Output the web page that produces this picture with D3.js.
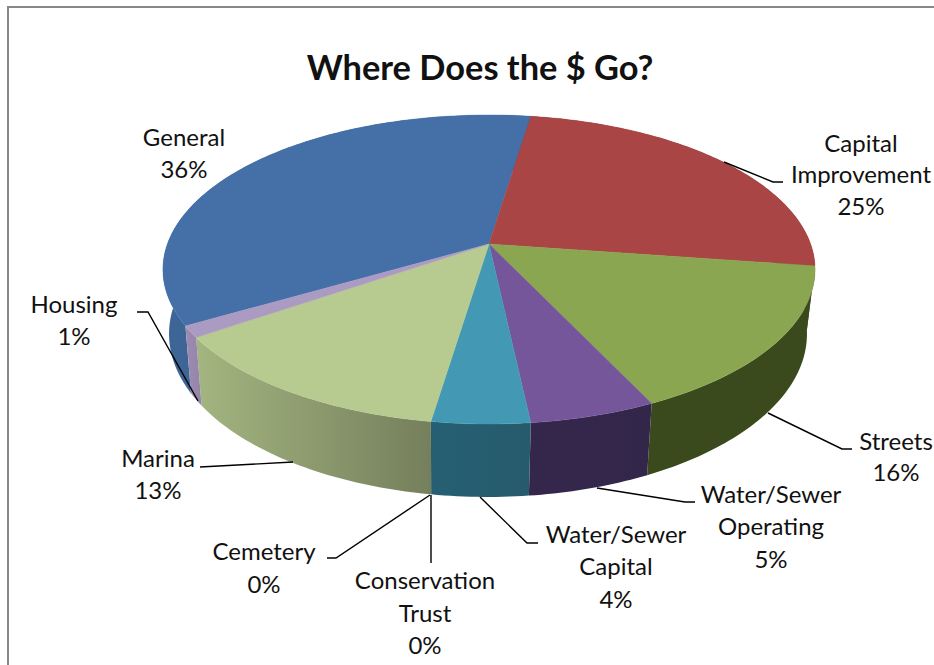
<!DOCTYPE html>
<html><head><meta charset="utf-8">
<script src="https://cdnjs.cloudflare.com/ajax/libs/d3/7.8.5/d3.min.js"></script>
<style>html,body{margin:0;padding:0;background:#fff;overflow:hidden}svg{display:block}text{font-family:Lato,"Noto Sans",sans-serif;fill:#111}</style>
</head><body><svg id="c" width="934" height="665"></svg>
<script>
const title = "Where Does the $ Go?";
const categories = ["General","Capital Improvement","Streets","Water/Sewer Operating","Water/Sewer Capital","Conservation Trust","Cemetery","Marina","Housing"];
const shares = [35.75,24.85,15.65,5.35,4.15,0,0,13.05,1.2];
const percentLabels = ["36%","25%","16%","5%","4%","0%","0%","13%","1%"];
const topColors = ["#4470a7","#a94544","#8aa650","#75569b","#4399b3","#d9863d","#8ea5cb","#b7ca90","#ab9bc2"];
const wallStops = [["#3d6596","#3a6090"],["#7d2f2e","#7d2f2e"],["#3a4a1d","#3a4a1d"],["#34274b","#32264a"],["#265f73","#275b6c"],["#555","#555"],["#555","#555"],["#a3b580","#757f5c"],["#9e8cb2","#9484a8"]];

// label layout: text lines with centre x / centre y per line, leader polyline
const labelLayout = [
 {x:184,ys:[140,172],lines:["General"],leader:null},
 {x:861,ys:[146,177,209],lines:["Capital","Improvement"],leader:[[724,162],[773,182],[783,182]]},
 {x:896,ys:[444,475],lines:["Streets"],leader:[[768,413],[842,449],[852,449]]},
 {x:771,ys:[497,529,562],lines:["Water/Sewer","Operating"],leader:[[597,488],[685,502],[695,502]]},
 {x:616,ys:[537,569,602],lines:["Water/Sewer","Capital"],leader:[[480,497],[527,543],[538,543]]},
 {x:425,ys:[583,616,648],lines:["Conservation","Trust"],leader:[[431,495],[431,563]]},
 {x:264,ys:[554,587],lines:["Cemetery"],leader:[[430,495],[336,558],[327,558]]},
 {x:158,ys:[461,493],lines:["Marina"],leader:[[293,462],[200,467]]},
 {x:74,ys:[307,339],lines:["Housing"],leader:[[137,312],[148,312],[198,401]]}
];

const svg = d3.select("#c");
svg.append("path").attr("d","M8,665V7H934").attr("fill","none").attr("stroke","#888").attr("stroke-width",2);

const startAngle = -120*Math.PI/180;
const arcs = d3.pie().sort(null).startAngle(startAngle).endAngle(startAngle+2*Math.PI)(shares);

// perspective projection of the pie's rim at the two levels
const k = 0.165;
const topPlane = {cx:489, cy:244, a:321.6, b:150.3};
const botPlane = {cx:488, cy:307, a:314.6, b:158.6};
function rim(p, th){
  const u=Math.sin(th), v=-Math.cos(th), w=1-k*v;
  return [p.cx+p.a*u/w, p.cy+p.b*v/w];
}
function samples(a0,a1){
  const n=Math.max(2,Math.ceil((a1-a0)/(Math.PI/180)));
  return d3.range(n+1).map(i=>a0+(a1-a0)*i/n);
}
const line = d3.line();
const defs = svg.append("defs");
arcs.forEach((d,i)=>{
  const g=defs.append("linearGradient").attr("id","w"+i);
  g.append("stop").attr("offset",0).attr("stop-color",wallStops[i][0]);
  g.append("stop").attr("offset",1).attr("stop-color",wallStops[i][1]);
});
const gWalls = svg.append("g"), gTops = svg.append("g");
const visible = arcs.map((d,i)=>({d,i})).filter(o=>o.d.value>0);
visible.forEach(({d,i})=>{
  const s=samples(d.startAngle,d.endAngle);
  const pts=s.map(t=>rim(topPlane,t)).concat(s.slice().reverse().map(t=>rim(botPlane,t)));
  gWalls.append("path").attr("d",line(pts)+"Z").attr("fill",`url(#w${i})`);
});
visible.forEach(({d,i})=>{
  const s=samples(d.startAngle,d.endAngle);
  const pts=[[topPlane.cx,topPlane.cy]].concat(s.map(t=>rim(topPlane,t)));
  gTops.append("path").attr("d",line(pts)+"Z").attr("fill",topColors[i]).attr("stroke",topColors[i]).attr("stroke-width",0.4);
});

svg.append("text").attr("x",480).attr("y",71).attr("text-anchor","middle").attr("dominant-baseline","middle")
  .attr("font-weight",700).attr("font-size",34.4).text(title);

labelLayout.forEach((l,i)=>{
  if(l.leader) svg.append("path").attr("d",line(l.leader)).attr("fill","none").attr("stroke","#000").attr("stroke-width",1.4);
  const rows=l.lines.concat([percentLabels[i]]);
  rows.forEach((t,j)=>svg.append("text").attr("x",l.x).attr("y",l.ys[j]).attr("text-anchor","middle").attr("dominant-baseline","middle").attr("font-size",24).text(t));
});
</script></body></html>
